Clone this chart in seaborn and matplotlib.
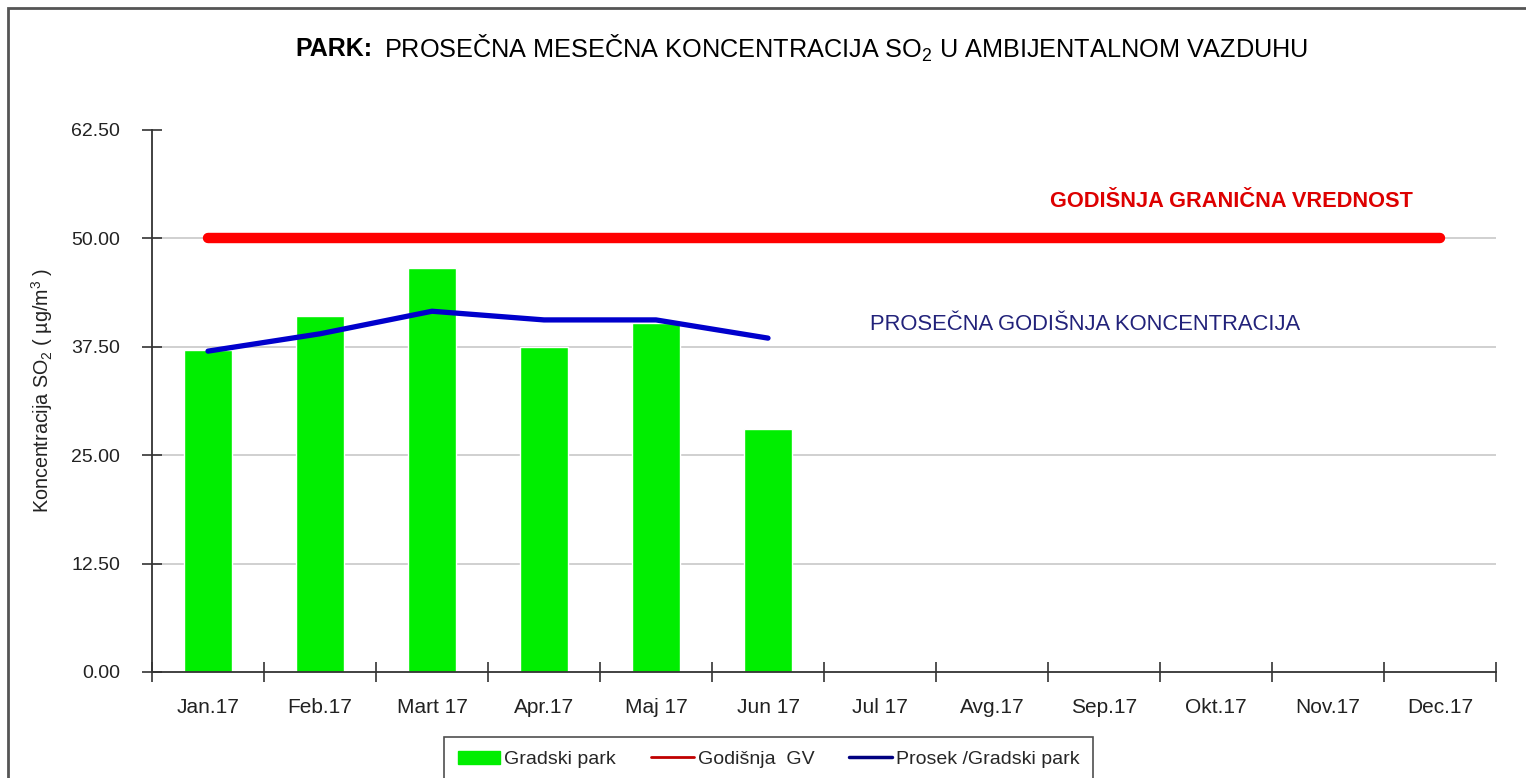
import numpy as np
import pandas as pd
import matplotlib
matplotlib.use("Agg")
import matplotlib.pyplot as plt
import matplotlib.patches as mpatches
from matplotlib.lines import Line2D
import seaborn as sns

# Data
months = ["Jan.17", "Feb.17", "Mart 17", "Apr.17", "Maj 17", "Jun 17",
          "Jul 17", "Avg.17", "Sep.17", "Okt.17", "Nov.17", "Dec.17"]
gradski_park = [37.1, 41.0, 46.6, 37.5, 40.2, 28.0,
                np.nan, np.nan, np.nan, np.nan, np.nan, np.nan]
godisnja_gv = [50.0] * 12
prosek = [37.0, 39.0, 41.6, 40.6, 40.6, 38.5,
          np.nan, np.nan, np.nan, np.nan, np.nan, np.nan]
y_ticks = [0, 12.5, 25, 37.5, 50, 62.5]

df = pd.DataFrame({"mesec": months, "park": gradski_park,
                   "gv": godisnja_gv, "prosek": prosek})
df["pos"] = np.arange(len(df))

sns.set_style("white")
plt.rcParams["font.family"] = ["Liberation Sans", "DejaVu Sans"]
plt.rcParams["mathtext.fontset"] = "custom"
plt.rcParams["mathtext.rm"] = "Liberation Sans"
plt.rcParams["mathtext.it"] = "Liberation Sans:italic"
plt.rcParams["mathtext.bf"] = "Liberation Sans:bold"

fig = plt.figure(figsize=(15.26, 7.78), dpi=100)
ax = fig.add_axes([152 / 1526, 1 - 672 / 778, 1344 / 1526, 542 / 778])

green = "#00EE00"
red = "#FF0000"
blue = "#0000CC"

sns.barplot(data=df, x="mesec", y="park", color=green, width=0.42,
            saturation=1, ax=ax, zorder=2)
sns.lineplot(data=df, x="pos", y="gv", color=red, linewidth=7.5,
             solid_capstyle="round", ax=ax, zorder=3)
sns.lineplot(data=df.dropna(subset=["prosek"]), x="pos", y="prosek",
             color=blue, linewidth=3.8, solid_capstyle="round", ax=ax, zorder=4)

# axes styling
ax.set_xlim(-0.5, 11.5)
ax.set_ylim(0, 62.5)
ax.set_yticks(y_ticks)
ax.set_yticklabels([f"{v:.2f}" for v in y_ticks])
ax.set_xticks(df["pos"])
ax.set_xticklabels(months)
ax.set_xticks(np.arange(-0.5, 12, 1), minor=True)
ax.tick_params(axis="x", which="major", bottom=True, length=0, pad=19,
               labelsize=15, labelcolor="#222222")
ax.tick_params(axis="x", which="minor", bottom=True, length=14, width=1.2,
               direction="inout", color="#333333")
ax.tick_params(axis="y", left=True, length=14, width=1.2, direction="inout", pad=16,
               labelsize=14, color="#333333", labelcolor="#222222")

for v in y_ticks[1:-1]:
    ax.axhline(v, color="#c8c8c8", linewidth=1.2, zorder=0)

for s in ["top", "right"]:
    ax.spines[s].set_visible(False)
for s in ["left", "bottom"]:
    ax.spines[s].set_color("#333333")
    ax.spines[s].set_linewidth(1.3)
ax.set_xlabel("")
ax.set_ylabel("")

# title: bold prefix + normal rest
fig.text(295 / 1526, 1 - 56 / 778, "PARK:", ha="left", va="baseline",
         fontsize=18, fontweight="bold", color="black")
fig.text(384 / 1526, 1 - 58 / 778,
         r"PROSEČNA MESEČNA KONCENTRACIJA SO$_2$ U AMBIJENTALNOM VAZDUHU",
         ha="left", va="baseline", fontsize=18.2, color="black")
fig.text(42 / 1526, 1 - 390 / 778, r"Koncentracija SO$_2$ ( µg/m$^3$ )",
         rotation=90, ha="center", va="center", fontsize=14.2, color="#222222")
ax.text(9.14, 54.2, "GODIŠNJA GRANIČNA VREDNOST", color="#DD0000",
        fontsize=15.7, fontweight="bold", ha="center", va="center")
ax.text(7.83, 40.05, "PROSEČNA GODIŠNJA KONCENTRACIJA", color="#22227A",
        fontsize=15.8, ha="center", va="center")

# legend
handles = [mpatches.Patch(color=green, label="Gradski park"),
           Line2D([0], [0], color="#C00000", lw=2, label="Godišnja  GV"),
           Line2D([0], [0], color="#000080", lw=2.5, label="Prosek /Gradski park")]
leg = fig.legend(handles=handles, loc="upper left",
                 bbox_to_anchor=(444 / 1526, 1 - 737 / 778), ncol=3,
                 fontsize=14, frameon=True, fancybox=False,
                 handlelength=2.2, handletextpad=0.2, columnspacing=1.8,
                 borderpad=0.7, borderaxespad=0)
leg.get_frame().set_edgecolor("#222222")
leg.get_frame().set_linewidth(1.2)

# outer frame, clipped at right and bottom
fig.patches.append(mpatches.Rectangle((8 / 1526, -0.1), 1.2, 1.1 - 8 / 778,
                                      transform=fig.transFigure, fill=False,
                                      edgecolor="#555555", linewidth=2))

fig.savefig("out.png", dpi=100)
